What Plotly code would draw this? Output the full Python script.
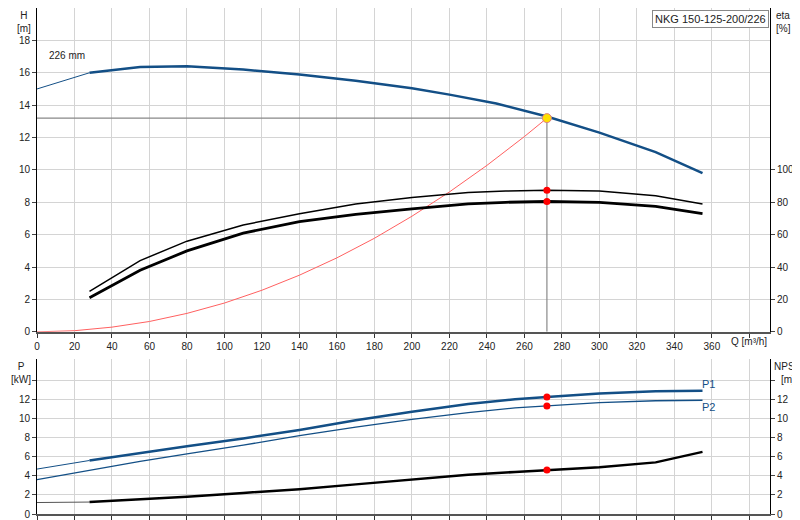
import plotly.graph_objects as go

q_h = [0, 28, 55, 80, 110, 140, 170, 200, 220, 245, 272, 300, 330, 355]
h_vals = [15.0, 16.0, 16.35, 16.4, 16.2, 15.9, 15.5, 15.05, 14.65, 14.1, 13.3, 12.3, 11.1, 9.8]
q_eta = [28, 55, 80, 110, 140, 170, 200, 230, 250, 272, 300, 330, 355]
eta_hi = [25, 44, 56, 66, 73, 79, 83, 86, 87, 87.5, 87, 84, 79]
eta_lo = [21, 38, 50, 61, 68, 72.5, 76, 79, 80, 80.5, 80, 77.5, 73]
q_sys = [0, 20, 40, 60, 80, 100, 120, 140, 160, 180, 200, 220, 240, 260, 272]
h_sys = [0, 0.07, 0.29, 0.64, 1.14, 1.78, 2.57, 3.5, 4.57, 5.78, 7.14, 8.64, 10.28, 12.06, 13.2]
q_p = [0, 28, 55, 80, 110, 140, 170, 200, 230, 255, 272, 300, 330, 355]
p1 = [4.7, 5.6, 6.4, 7.1, 7.9, 8.8, 9.8, 10.7, 11.5, 12.0, 12.25, 12.6, 12.85, 12.9]
p2 = [3.6, 4.6, 5.5, 6.3, 7.2, 8.2, 9.1, 9.9, 10.6, 11.1, 11.3, 11.65, 11.85, 11.9]
npsh = [1.2, 1.25, 1.5, 1.8, 2.2, 2.6, 3.1, 3.6, 4.1, 4.4, 4.6, 4.9, 5.4, 6.5]
q_op, h_op = 272, 13.2
op_eta = [87.5, 80.5]
op_p = [12.25, 11.3]
op_npsh = 4.6

BLUE = "#134f86"
fig = go.Figure()
fig.add_trace(go.Scatter(x=q_h[:2], y=h_vals[:2], mode="lines", line=dict(color=BLUE, width=1), xaxis="x", yaxis="y"))
fig.add_trace(go.Scatter(x=q_h[1:], y=h_vals[1:], mode="lines", line=dict(color=BLUE, width=2.5), xaxis="x", yaxis="y"))
fig.add_trace(go.Scatter(x=[0, q_op, q_op], y=[h_op, h_op, 0], mode="lines", line=dict(color="#888", width=1.2), xaxis="x", yaxis="y"))
fig.add_trace(go.Scatter(x=q_sys, y=h_sys, mode="lines", line=dict(color="#ff6060", width=1), xaxis="x", yaxis="y"))
fig.add_trace(go.Scatter(x=q_eta, y=eta_hi, mode="lines", line=dict(color="black", width=1.5), xaxis="x", yaxis="y2"))
fig.add_trace(go.Scatter(x=q_eta, y=eta_lo, mode="lines", line=dict(color="black", width=2.8), xaxis="x", yaxis="y2"))
fig.add_trace(go.Scatter(x=[q_op, q_op], y=op_eta, mode="markers", marker=dict(color="red", size=7), xaxis="x", yaxis="y2"))
fig.add_trace(go.Scatter(x=[q_op], y=[h_op], mode="markers", marker=dict(color="#ffe000", size=9, line=dict(color="#e08080", width=1)), xaxis="x", yaxis="y"))
fig.add_trace(go.Scatter(x=q_p[:2], y=p1[:2], mode="lines", line=dict(color=BLUE, width=1), xaxis="x2", yaxis="y3"))
fig.add_trace(go.Scatter(x=q_p[1:], y=p1[1:], mode="lines", line=dict(color=BLUE, width=2.5), xaxis="x2", yaxis="y3"))
fig.add_trace(go.Scatter(x=q_p, y=p2, mode="lines", line=dict(color=BLUE, width=1.3), xaxis="x2", yaxis="y3"))
fig.add_trace(go.Scatter(x=[q_op, q_op], y=op_p, mode="markers", marker=dict(color="red", size=7), xaxis="x2", yaxis="y3"))
fig.add_trace(go.Scatter(x=q_p[:2], y=npsh[:2], mode="lines", line=dict(color="#555", width=1), xaxis="x2", yaxis="y4"))
fig.add_trace(go.Scatter(x=q_p[1:], y=npsh[1:], mode="lines", line=dict(color="black", width=2.5), xaxis="x2", yaxis="y4"))
fig.add_trace(go.Scatter(x=[q_op], y=[op_npsh], mode="markers", marker=dict(color="red", size=7), xaxis="x2", yaxis="y4"))

xt = list(range(0, 381, 20))
xtt = [str(v) for v in xt[:-1]] + [""]
grid = "#d4d4d4"
ax_common = dict(range=[0, 391], tickvals=xt, showgrid=True, gridcolor=grid, zeroline=False, automargin=False,
                 showline=True, linecolor="#555", linewidth=1.5, ticks="outside", ticklen=4, tickcolor="#333")
yc = dict(zeroline=False, showline=True, linecolor="black", ticks="outside", ticklen=4, automargin=False)
fig.update_layout(
    width=800, height=520, margin=dict(l=29, r=38, t=0, b=14, autoexpand=False),
    paper_bgcolor="white", plot_bgcolor="white", showlegend=False,
    font=dict(family="Liberation Sans, Arial", size=10, color="#222"),
    xaxis=dict(domain=[0, 1], anchor="y", ticktext=xtt, **ax_common),
    yaxis=dict(domain=[0.36, 1], range=[0, 20], tickvals=list(range(0, 19, 2)), showgrid=True, gridcolor=grid, **yc),
    yaxis2=dict(overlaying="y", side="right", range=[0, 200], tickvals=list(range(0, 101, 20)), showgrid=False, **yc),
    xaxis2=dict(domain=[0, 1], anchor="y3", showticklabels=False, **ax_common),
    yaxis3=dict(domain=[0, 0.306], range=[0, 16.2], tickvals=list(range(0, 15, 2)),
                ticktext=[str(v) for v in range(0, 13, 2)] + [""], showgrid=True, gridcolor=grid, **yc),
    yaxis4=dict(overlaying="y3", side="right", range=[0, 16.2], tickvals=list(range(0, 15, 2)),
                ticktext=[str(v) for v in range(0, 13, 2)] + [""], showgrid=False, **yc),
)
ann = [
    dict(text="H<br>[m]", xref="paper", yref="paper", x=-0.005, y=1.0, xanchor="right", yanchor="top", align="center"),
    dict(text="eta<br>[%]", xref="paper", yref="paper", x=1.005, y=1.0, xanchor="left", yanchor="top", align="left"),
    dict(text="P<br>[kW]", xref="paper", yref="paper", x=-0.005, y=0.306, xanchor="right", yanchor="top", align="center"),
    dict(text="NPSH<br>[m]", xref="paper", yref="paper", x=1.003, y=0.306, xanchor="left", yanchor="top", align="center"),
    dict(text="Q [m³/h]", xref="x", yref="paper", x=380, y=0.36, xanchor="center", yanchor="top", yshift=-2),
    dict(text="226 mm", xref="x", yref="y", x=16, y=16.6, xanchor="center", yanchor="bottom"),
    dict(text="NKG 150-125-200/226", xref="paper", yref="paper", x=0.998, y=0.997, xanchor="right", yanchor="top",
         bordercolor="#888", borderwidth=1, bgcolor="white", borderpad=2, font=dict(size=11)),
    dict(text="P1", xref="x2", yref="y3", x=358, y=13.6, xanchor="center", font=dict(color=BLUE, size=11)),
    dict(text="P2", xref="x2", yref="y3", x=358, y=11.2, xanchor="center", font=dict(color=BLUE, size=11)),
]
for a in ann:
    a["showarrow"] = False
fig.update_layout(annotations=ann)
fig.write_html("out.html")
